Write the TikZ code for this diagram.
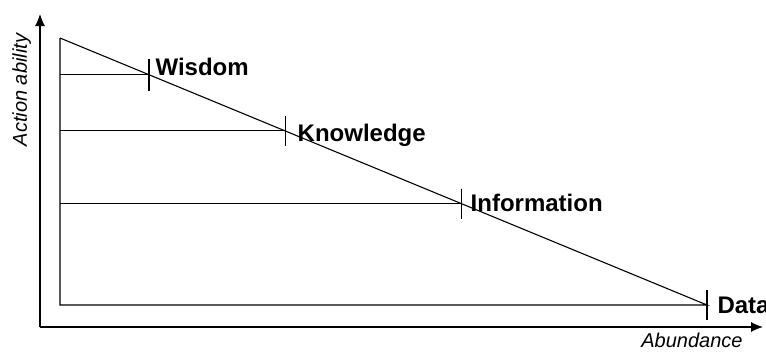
\documentclass[tikz,border=0pt]{standalone}
\usepackage{fontspec}
\setmainfont{Liberation Sans}
\usetikzlibrary{arrows.meta,calc}

\begin{document}
\begin{tikzpicture}[x=1pt,y=-1pt,line width=1.1pt,
  axislabel/.style={font=\fontsize{20}{22}\selectfont\itshape, inner sep=0pt},
  levellabel/.style={anchor=base west, inner sep=0pt, font=\fontsize{24}{26}\selectfont\bfseries}]
\useasboundingbox (0,0) rectangle (766,351);

% axes
\coordinate (o) at (40,327);
\coordinate (ytip) at (40,14);
\coordinate (xtip) at (763,327);
\draw[-{Latex[length=12pt,width=10pt]}] (o) -- (ytip);
\draw[-{Latex[length=12pt,width=10pt]}] (o) -- (xtip);
\node[axislabel, rotate=90, anchor=base] (action) at (27,90) {Action ability};
\node[axislabel, anchor=base] (abundance) at (692,347) {Abundance};

% triangle
\coordinate (top) at (60,38);
\coordinate (data) at (707,305);
\coordinate (corner) at (60,305);
\draw (top) -- (corner) -- (data) -- (top);

\coordinate (w) at ($(top)!0.1376!(data)$);
\coordinate (k) at ($(top)!0.348!(data)$);
\coordinate (i) at ($(top)!0.62!(data)$);

\draw (w) -- (w -| corner);
\draw (k) -- (k -| corner);
\draw (i) -- (i -| corner);

% ticks
\draw ([yshift=16pt]w) -- ([yshift=-16pt]w);
\draw ([yshift=15pt]k) -- ([yshift=-15pt]k);
\draw ([yshift=15pt]i) -- ([yshift=-15pt]i);
\draw ([yshift=15pt]data) -- ([yshift=-15pt]data);

\node[levellabel] (wisdom) at ([xshift=6pt,yshift=-1pt]w) {Wisdom};
\node[levellabel] (knowledge) at ([xshift=12pt,yshift=-11pt]k) {Knowledge};
\node[levellabel] (information) at ([xshift=9pt,yshift=-8pt]i) {Information};
\node[levellabel] (datalabel) at ([xshift=10pt,yshift=-8pt]data) {Data};

\end{tikzpicture}
\end{document}
